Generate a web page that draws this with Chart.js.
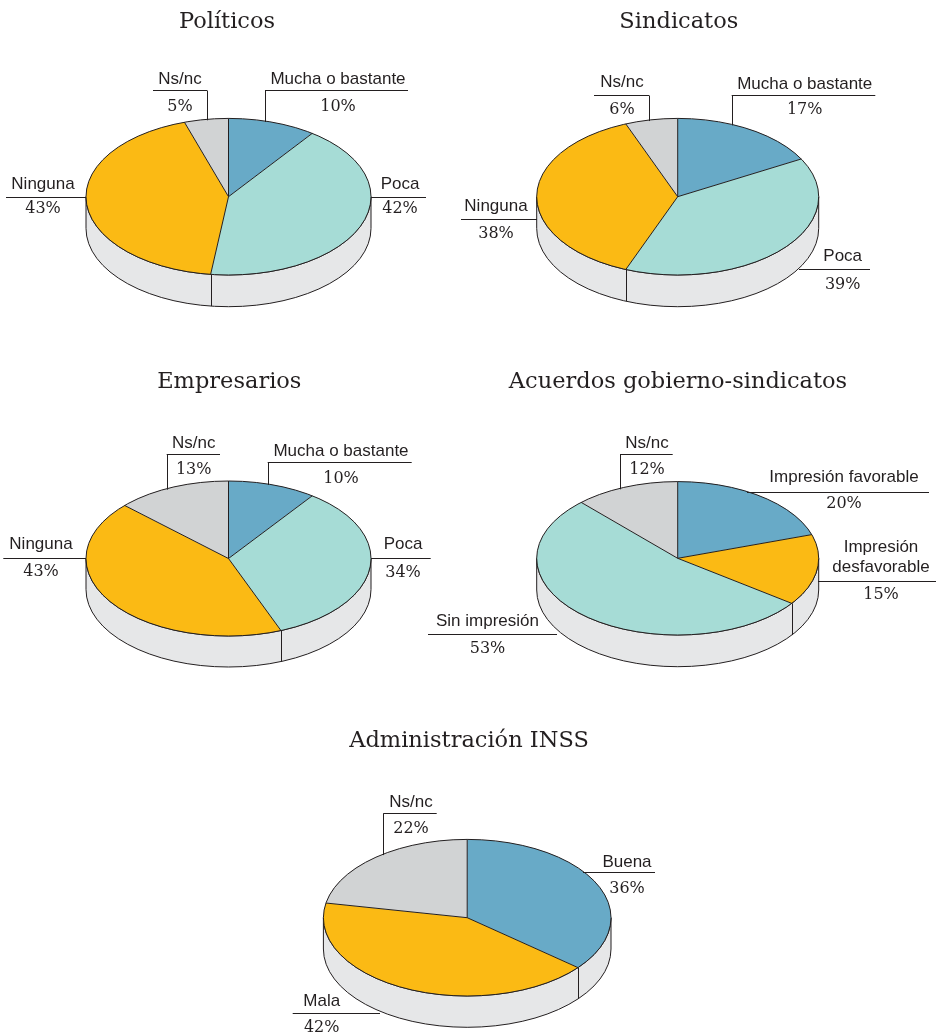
<!DOCTYPE html>
<html><head><meta charset="utf-8">
<script src="https://cdn.jsdelivr.net/npm/chart.js@4"></script>
<style>
html,body{margin:0;padding:0;background:#fff;}
#wrap{position:relative;width:936px;height:1033px;overflow:hidden;background:#fff;}
#wrap canvas{position:absolute;left:0;top:0;}
</style></head>
<body><div id="wrap"></div>
<script>
// ---- data ----
const chartTitles = ['Políticos', 'Sindicatos', 'Empresarios', 'Acuerdos gobierno-sindicatos', 'Administración INSS'];

const politicosCategories = ['Mucha o bastante', 'Poca', 'Ninguna', 'Ns/nc'];
const politicosValues = [10, 42, 43, 5];

const sindicatosCategories = ['Mucha o bastante', 'Poca', 'Ninguna', 'Ns/nc'];
const sindicatosValues = [17, 39, 38, 6];

const empresariosCategories = ['Mucha o bastante', 'Poca', 'Ninguna', 'Ns/nc'];
const empresariosValues = [10, 34, 43, 13];

const acuerdosCategories = ['Impresión favorable', 'Impresión desfavorable', 'Sin impresión', 'Ns/nc'];
const acuerdosValues = [20, 15, 53, 12];

const inssCategories = ['Buena', 'Mala', 'Ns/nc'];
const inssValues = [36, 42, 22];

// ---- styles ----
const BLUE = '#68aac7', TEAL = '#a6dcd6', ORANGE = '#fbba14', GRAY = '#d1d3d4';
const SIDE = '#e6e7e8', INK = '#231f20';
const W = 936, H = 1033;

// ---- layout (positions only) ----
const layouts = [
  { geom:{cx:228.5, cy:196.7, rx:142.5, ry:78.3, d:31.7, tx:227, ty:27.7},
    colors:[BLUE, TEAL, ORANGE, GRAY],
    labels:[
      {x:338, y:84, py:111, h:[265,408,90], v:265},
      {x:400, y:189, py:213, h:[371,426,196.7]},
      {x:43, y:189, py:213, h:[6,86,196.7]},
      {x:180, y:84, py:111, h:[153,207,90], v:207}
    ]},
  { geom:{cx:677.7, cy:196.7, rx:141, ry:78.3, d:31.7, tx:678.8, ty:27.7},
    colors:[BLUE, TEAL, ORANGE, GRAY],
    labels:[
      {x:804.7, y:89, py:114, h:[731.7,875.3,95], v:731.7},
      {x:842.7, y:261, py:289.3, h:[799,870,269.3]},
      {x:496, y:211, py:237.7, h:[461,537,219.3]},
      {x:622, y:87, py:114, h:[594,649,95], v:649}
    ]},
  { geom:{cx:228.5, cy:558.5, rx:142.5, ry:77.5, d:31, tx:229.3, ty:387.7},
    colors:[BLUE, TEAL, ORANGE, GRAY],
    labels:[
      {x:341, y:456, py:482.7, h:[267.7,411.7,462.3], v:267.7},
      {x:403, y:549.3, py:577.3, h:[371,430.7,558.3]},
      {x:41, y:549, py:576, h:[3.3,86,557.7]},
      {x:193.7, y:447.7, py:474.3, h:[166.7,220,454.3], v:166.7}
    ]},
  { geom:{cx:677.7, cy:558.3, rx:141, ry:76.7, d:31.7, tx:678, ty:387.7},
    colors:[BLUE, ORANGE, TEAL, GRAY],
    labels:[
      {x:844, y:482.3, py:508.3, h:[747,929,491.7]},
      {x:881, y:552.3, lh:20, py:599.3, h:[818,936,580.7], wrap:true},
      {x:487.5, y:625.7, py:653.3, h:[428,557,634]},
      {x:647, y:447.7, py:474, h:[620,672.7,454.3], v:620}
    ]},
  { geom:{cx:467.2, cy:917.7, rx:143.8, ry:78.3, d:31.3, tx:469, ty:746.7},
    colors:[BLUE, ORANGE, GRAY],
    labels:[
      {x:627, y:866.7, py:892.7, h:[583,655,871.7]},
      {x:321.7, y:1006, py:1031.7, h:[292.7,380,1012.7]},
      {x:411, y:807.3, py:832.7, h:[383.3,436.7,812.7], v:383.3}
    ]}
];

const datasets = [
  [politicosCategories, politicosValues],
  [sindicatosCategories, sindicatosValues],
  [empresariosCategories, empresariosValues],
  [acuerdosCategories, acuerdosValues],
  [inssCategories, inssValues]
];

const px = v => Math.round(v) + 0.5;

const pie3d = {
  id: 'pie3d',
  beforeDatasetsDraw(chart, args, opts) {
    const ctx = chart.ctx;
    const arcs = chart.getDatasetMeta(0).data;
    const a0 = arcs[0];
    const x = a0.x, y = a0.y, r = a0.outerRadius;
    const ry = opts.geom.ry, d = opts.geom.d;
    // side band (front half)
    ctx.save();
    ctx.beginPath();
    ctx.ellipse(x, y, r, ry, 0, 0, Math.PI, false);
    ctx.lineTo(x - r, y + d);
    ctx.ellipse(x, y + d, r, ry, 0, Math.PI, 0, true);
    ctx.closePath();
    ctx.fillStyle = SIDE;
    ctx.fill();
    ctx.strokeStyle = INK;
    ctx.lineWidth = 1;
    ctx.stroke();
    // slice boundaries on the side
    arcs.forEach(a => {
      const ang = a.startAngle;
      const s = Math.sin(ang), c = Math.cos(ang);
      if (s > 0.02) {
        const bx = x + r * c, by = y + ry * s;
        ctx.beginPath();
        ctx.moveTo(px(bx), by);
        ctx.lineTo(px(bx), by + d);
        ctx.stroke();
      }
    });
    ctx.restore();
    // squash the pie top into an ellipse
    ctx.save();
    ctx.translate(0, y);
    ctx.scale(1, ry / r);
    ctx.translate(0, -y);
  },
  afterDatasetsDraw(chart, args, opts) {
    const ctx = chart.ctx;
    ctx.restore();
    const arcs = chart.getDatasetMeta(0).data;
    const a0 = arcs[0];
    const x = a0.x, y = a0.y, r = a0.outerRadius;
    const g = opts.geom, ry = g.ry;
    ctx.save();
    ctx.strokeStyle = INK;
    ctx.lineWidth = 1;
    // top outline
    ctx.beginPath();
    ctx.ellipse(x, y, r, ry, 0, 0, Math.PI * 2);
    ctx.stroke();
    // radial dividers
    arcs.forEach(a => {
      const ang = a.startAngle;
      ctx.beginPath();
      ctx.moveTo(x, y);
      ctx.lineTo(x + r * Math.cos(ang), y + ry * Math.sin(ang));
      ctx.stroke();
    });
    // title
    ctx.fillStyle = INK;
    ctx.textAlign = 'center';
    ctx.textBaseline = 'alphabetic';
    ctx.font = '22.5px "DejaVu Serif"';
    ctx.fillText(opts.title, g.tx, g.ty);
    // labels with leader lines
    const labels = chart.data.labels;
    const vals = chart.data.datasets[0].data;
    opts.labels.forEach((L, i) => {
      ctx.strokeStyle = INK;
      ctx.lineWidth = 1;
      ctx.beginPath();
      ctx.moveTo(L.h[0], px(L.h[2]));
      ctx.lineTo(L.h[1], px(L.h[2]));
      if (L.v !== undefined) {
        const t = (L.v - x) / r;
        const ey = y - ry * Math.sqrt(Math.max(0, 1 - t * t));
        ctx.moveTo(px(L.v), px(L.h[2]));
        ctx.lineTo(px(L.v), ey + 1);
      }
      ctx.stroke();
      ctx.fillStyle = INK;
      ctx.font = '17px "Liberation Sans"';
      if (L.wrap) {
        labels[i].split(' ').forEach((w, k) => ctx.fillText(w, L.x, L.y + k * L.lh));
      } else {
        ctx.fillText(labels[i], L.x, L.y);
      }
      ctx.font = '16px "DejaVu Serif"';
      ctx.fillText(vals[i] + '%', L.x, L.py);
    });
    ctx.restore();
  }
};

const wrap = document.getElementById('wrap');
datasets.forEach(([cats, vals], idx) => {
  const L = layouts[idx];
  const g = L.geom;
  const cv = document.createElement('canvas');
  cv.width = W; cv.height = H;
  cv.style.width = W + 'px'; cv.style.height = H + 'px';
  wrap.appendChild(cv);
  new Chart(cv.getContext('2d'), {
    type: 'pie',
    data: {
      labels: cats,
      datasets: [{
        data: vals,
        backgroundColor: L.colors,
        borderWidth: 0,
        radius: g.rx
      }]
    },
    options: {
      responsive: false,
      maintainAspectRatio: false,
      devicePixelRatio: 1,
      animation: false,
      events: [],
      layout: { padding: { left: g.cx - 50, right: W - g.cx - 50, top: g.cy - 50, bottom: H - g.cy - 50 } },
      plugins: {
        legend: { display: false },
        tooltip: { enabled: false },
        title: { display: false },
        pie3d: { geom: g, labels: L.labels, title: chartTitles[idx] }
      }
    },
    plugins: [pie3d]
  });
});
</script>
</body></html>
